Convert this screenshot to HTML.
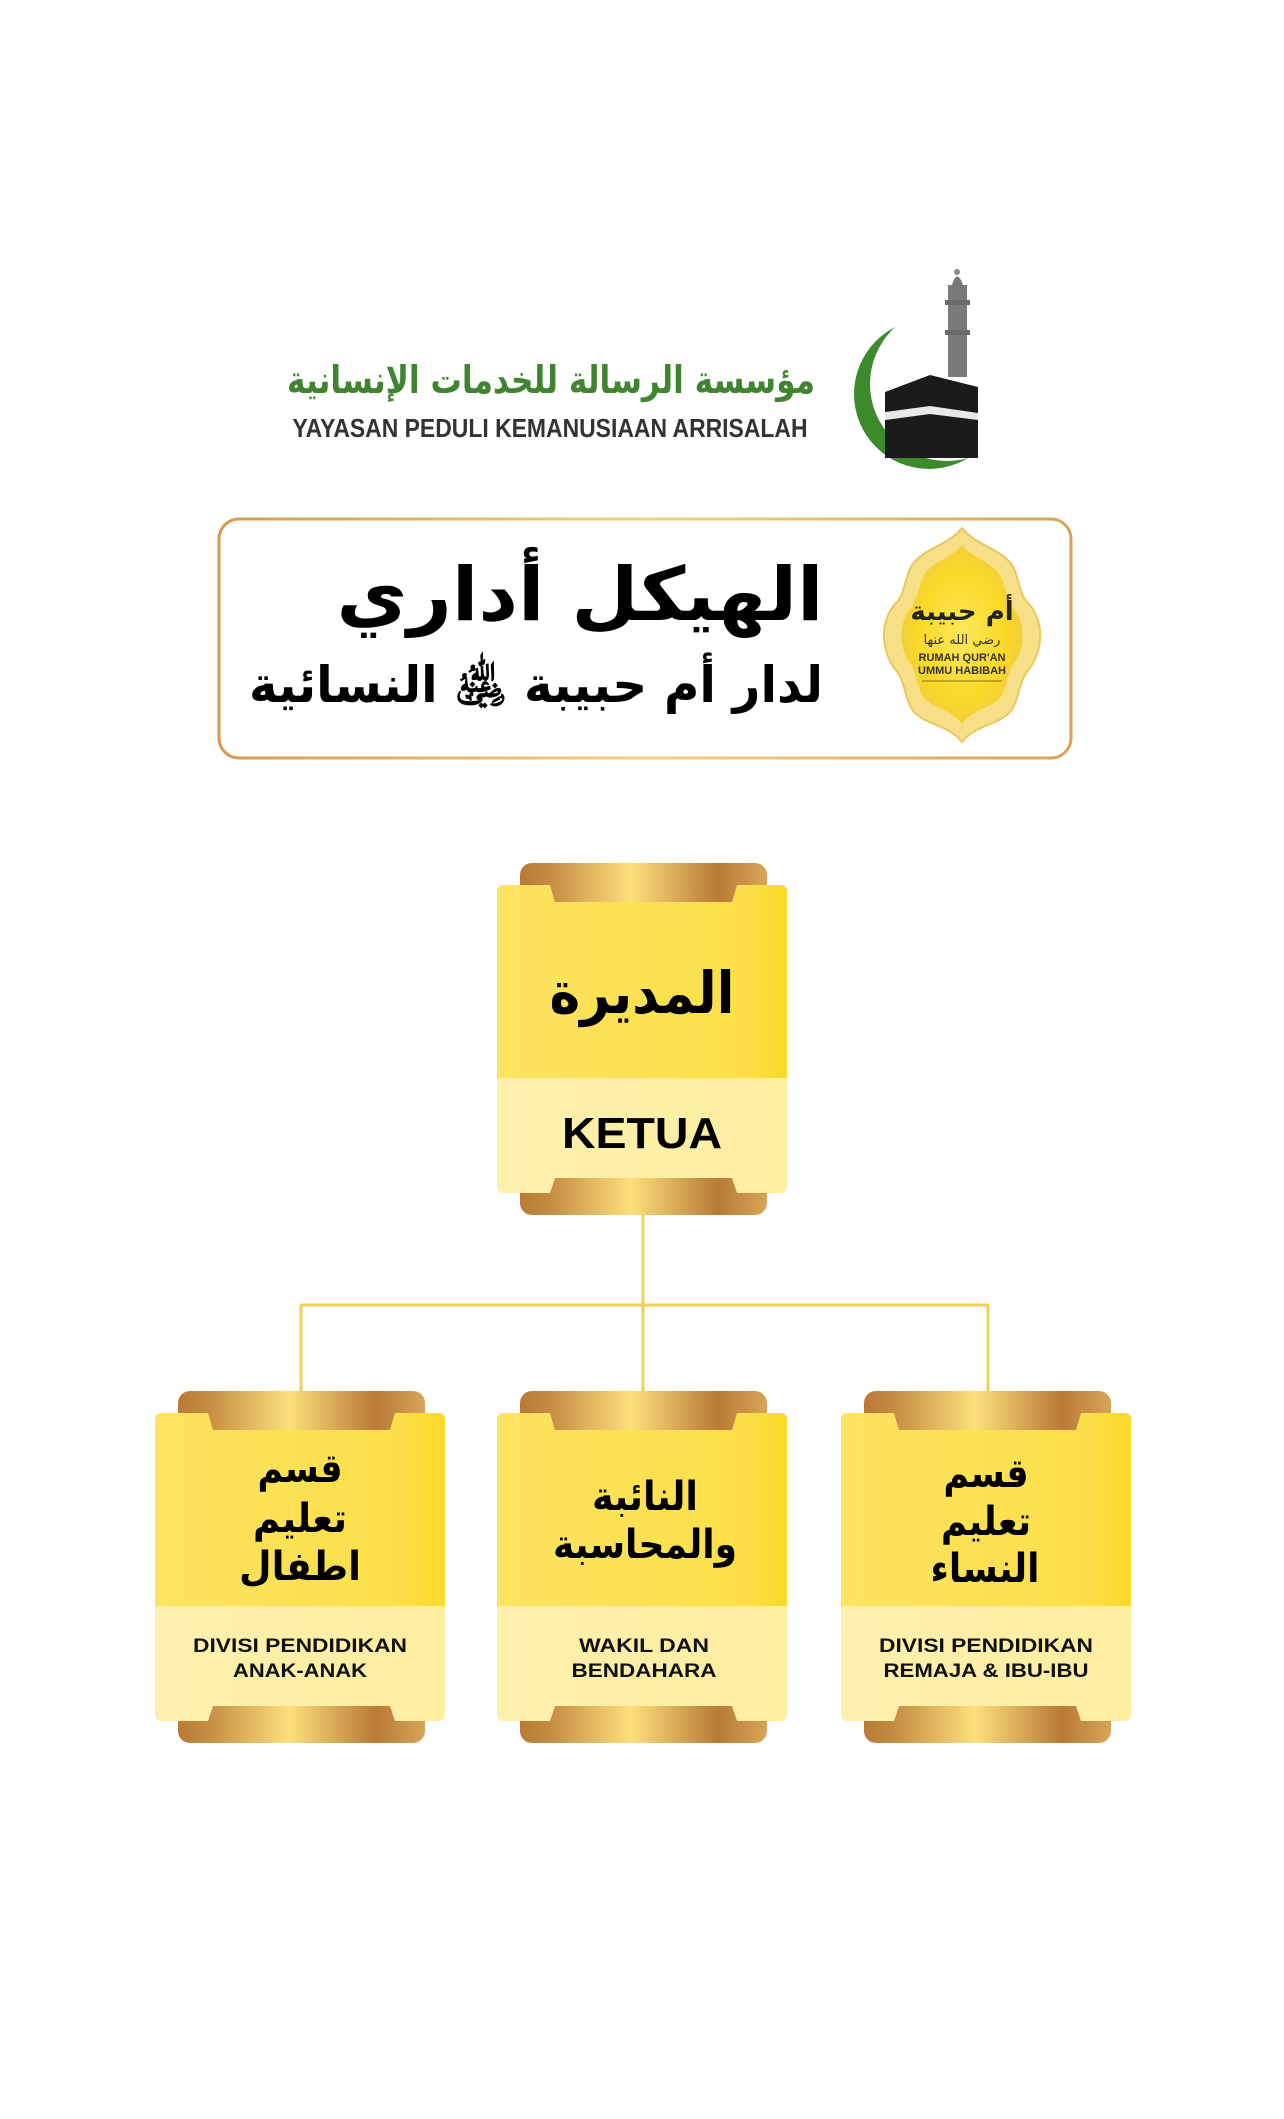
<!DOCTYPE html>
<html><head><meta charset="utf-8">
<style>
html,body{margin:0;padding:0;background:#fff;}
svg{display:block;}
.ar{font-family:"DejaVu Sans",sans-serif;font-weight:bold;}
.la{font-family:"Liberation Sans",sans-serif;font-weight:bold;}
</style></head><body>
<svg width="1284" height="2119" viewBox="0 0 1284 2119" xmlns="http://www.w3.org/2000/svg">
<defs>
<linearGradient id="gold" x1="0" y1="0" x2="1" y2="0">
<stop offset="0" stop-color="#b97a36"/><stop offset="0.12" stop-color="#c58c42"/>
<stop offset="0.45" stop-color="#fbe07c"/><stop offset="0.8" stop-color="#b97a36"/><stop offset="1" stop-color="#d7a557"/>
</linearGradient>
<linearGradient id="yel" x1="0" y1="0" x2="1" y2="0">
<stop offset="0" stop-color="#fde362"/><stop offset="0.85" stop-color="#fcdf48"/><stop offset="1" stop-color="#fbd928"/>
</linearGradient>
<linearGradient id="lyel" x1="0" y1="0" x2="1" y2="0">
<stop offset="0" stop-color="#fdf0ad"/><stop offset="1" stop-color="#fdeea0"/>
</linearGradient>
<linearGradient id="bord" x1="0" y1="0" x2="1" y2="0">
<stop offset="0" stop-color="#d49a4e"/><stop offset="0.5" stop-color="#f3d27a"/><stop offset="1" stop-color="#d8a453"/>
</linearGradient>
<radialGradient id="badge" cx="0.5" cy="0.5" r="0.5">
<stop offset="0" stop-color="#fde85a"/><stop offset="0.7" stop-color="#fbd928"/><stop offset="1" stop-color="#f2cf3a"/>
</radialGradient>
<mask id="cres">
<rect x="800" y="280" width="260" height="240" fill="#fff"/>
<circle cx="947" cy="384" r="77" fill="#000"/>
</mask>
<g id="card">
<rect x="23" y="-22" width="247" height="60" rx="12" fill="url(#gold)"/>
<rect x="23" y="290" width="247" height="40" rx="12" fill="url(#gold)"/>
<path d="M0,6 a6,6 0 0 1 6,-6 H53 L58,17 H235 L240,0 H284 a6,6 0 0 1 6,6 V193 H0 Z" fill="url(#yel)"/>
<path d="M0,193 H290 V302 a6,6 0 0 1 -6,6 H240 L235,293 H58 L53,308 H6 a6,6 0 0 1 -6,-6 Z" fill="url(#lyel)"/>
</g>
</defs>

<!-- Logo -->
<circle cx="929" cy="394" r="75" fill="#3d8a2c" mask="url(#cres)"/>
<rect x="948" y="285" width="19" height="92" fill="#7a7a7a"/>
<rect x="945" y="300" width="25" height="5" fill="#6a6a6a"/>
<rect x="945" y="330" width="25" height="5" fill="#6a6a6a"/>
<path d="M952,285 Q957,268 963,285 Z" fill="#777"/>
<circle cx="957" cy="272" r="3" fill="#888"/>
<path d="M885,392 L930,375 L978,387 L978,458 L885,458 Z" fill="#1b1b1b"/>
<path d="M885,412 L930,406 L978,413 L978,420 L930,414 L885,420 Z" fill="#e8e8e8"/>
<text x="551" y="393" text-anchor="middle" class="ar" font-size="38" fill="#3f8530" direction="rtl" textLength="528" lengthAdjust="spacingAndGlyphs">مؤسسة الرسالة للخدمات الإنسانية</text>
<text x="550" y="437" text-anchor="middle" font-family="'Liberation Sans Narrow','Liberation Sans',sans-serif" font-weight="bold" font-size="26" fill="#333" textLength="515" lengthAdjust="spacingAndGlyphs">YAYASAN PEDULI KEMANUSIAAN ARRISALAH</text>

<!-- Banner -->
<rect x="219" y="519" width="852" height="239" rx="20" fill="#fff" stroke="url(#bord)" stroke-width="3"/>
<text x="580" y="620" text-anchor="middle" class="ar" font-size="74" fill="#000" direction="rtl" textLength="487" lengthAdjust="spacingAndGlyphs">الهيكل أداري</text>
<text x="536" y="702" text-anchor="middle" class="ar" font-size="50" fill="#000" direction="rtl" textLength="574" lengthAdjust="spacingAndGlyphs">لدار أم حبيبة ﵁ النسائية</text>
<!-- Badge -->
<path d="M962,528 C975,545 1000,548 1012,565 C1020,578 1018,595 1030,605 C1045,625 1042,650 1030,668 C1018,680 1020,700 1010,712 C998,725 975,725 962,742 C949,725 926,725 914,712 C904,700 906,680 894,668 C882,650 879,625 894,605 C906,595 904,578 912,565 C924,548 949,545 962,528 Z" fill="#f6df86" stroke="#e9c85e" stroke-width="2"/>
<path d="M962,545 C972,558 992,562 1000,575 C1006,587 1006,600 1015,610 C1026,627 1024,648 1015,662 C1006,672 1008,688 1000,698 C990,708 972,710 962,724 C952,710 934,708 924,698 C916,688 918,672 909,662 C900,648 898,627 909,610 C918,600 918,587 924,575 C932,562 952,558 962,545 Z" fill="url(#badge)"/>
<text x="962" y="620" text-anchor="middle" class="ar" font-size="26" fill="#222" direction="rtl">أم حبيبة</text>
<text x="962" y="644" text-anchor="middle" class="ar" font-size="13" fill="#333" direction="rtl" style="font-weight:normal">رضي الله عنها</text>
<text x="962" y="661" text-anchor="middle" class="la" font-size="11" fill="#333">RUMAH QUR'AN</text>
<text x="962" y="674" text-anchor="middle" class="la" font-size="11" fill="#333">UMMU HABIBAH</text>
<line x1="922" y1="681" x2="1002" y2="681" stroke="#8a6a20" stroke-width="1"/>

<!-- Connectors -->
<g stroke="#f3cf5a" stroke-width="3" fill="none">
<line x1="643" y1="1215" x2="643" y2="1393"/>
<line x1="301" y1="1305" x2="989" y2="1305"/>
<line x1="301" y1="1304" x2="301" y2="1393"/>
<line x1="988" y1="1304" x2="988" y2="1393"/>
</g>

<!-- Top card -->
<use href="#card" x="497" y="885"/>
<text x="642" y="1013" text-anchor="middle" class="ar" font-size="58" fill="#000" direction="rtl" textLength="185" lengthAdjust="spacingAndGlyphs">المديرة</text>
<text x="642" y="1148" text-anchor="middle" class="la" font-size="44" fill="#000" textLength="160" lengthAdjust="spacingAndGlyphs">KETUA</text>

<!-- Bottom cards -->
<use href="#card" x="155" y="1413"/>
<use href="#card" x="497" y="1413"/>
<use href="#card" x="841" y="1413"/>

<g class="ar" font-size="40" fill="#000" text-anchor="middle">
<text x="300" y="1482" direction="rtl" textLength="85" lengthAdjust="spacingAndGlyphs">قسم</text>
<text x="300" y="1532" direction="rtl" textLength="94" lengthAdjust="spacingAndGlyphs">تعليم</text>
<text x="300" y="1580" direction="rtl" textLength="122" lengthAdjust="spacingAndGlyphs">اطفال</text>
<text x="645" y="1510" direction="rtl" textLength="106" lengthAdjust="spacingAndGlyphs">النائبة</text>
<text x="645" y="1558" direction="rtl" textLength="184" lengthAdjust="spacingAndGlyphs">والمحاسبة</text>
<text x="986" y="1487" direction="rtl" textLength="85" lengthAdjust="spacingAndGlyphs">قسم</text>
<text x="986" y="1535" direction="rtl" textLength="90" lengthAdjust="spacingAndGlyphs">تعليم</text>
<text x="985" y="1582" direction="rtl" textLength="109" lengthAdjust="spacingAndGlyphs">النساء</text>
</g>
<g class="la" font-size="19" fill="#111" text-anchor="middle">
<text x="300" y="1652" textLength="214" lengthAdjust="spacingAndGlyphs">DIVISI PENDIDIKAN</text>
<text x="300" y="1677" textLength="134" lengthAdjust="spacingAndGlyphs">ANAK-ANAK</text>
<text x="644" y="1652" textLength="130" lengthAdjust="spacingAndGlyphs">WAKIL DAN</text>
<text x="644" y="1677" textLength="145" lengthAdjust="spacingAndGlyphs">BENDAHARA</text>
<text x="986" y="1652" textLength="214" lengthAdjust="spacingAndGlyphs">DIVISI PENDIDIKAN</text>
<text x="986" y="1677" textLength="205" lengthAdjust="spacingAndGlyphs">REMAJA &amp; IBU-IBU</text>
</g>
</svg>
</body></html>
